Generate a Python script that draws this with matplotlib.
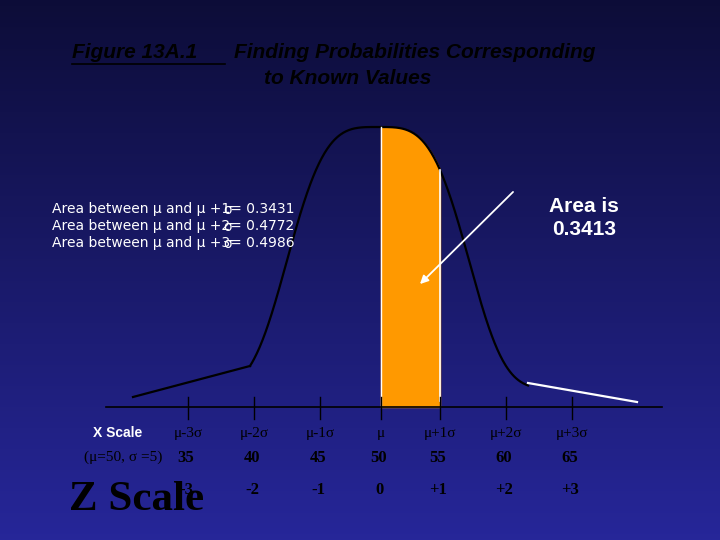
import numpy as np
import matplotlib
matplotlib.use("Agg")
import matplotlib.pyplot as plt

# slide in pixel coordinates (720 x 540, y downwards)
TICK_X = [188, 254, 320, 381, 440, 506, 572]
SIGMA_LABELS = ["μ-3σ", "μ-2σ", "μ-1σ", "μ", "μ+1σ", "μ+2σ", "μ+3σ"]
X_VALUES = ["35", "40", "45", "50", "55", "60", "65"]
Z_VALUES = ["-3", "-2", "-1", "0", "+1", "+2", "+3"]
AREA_VALUES = ["0.3431", "0.4772", "0.4986"]

BASE_Y = 407
PEAK_H = 280
CENTER = 378
WIDTH = 100
POWER = 3.6

fig = plt.figure(figsize=(7.2, 5.4), dpi=100)
ax = fig.add_axes([0, 0, 1, 1])
ax.set_xlim(0, 720)
ax.set_ylim(540, 0)
ax.axis("off")

# background gradient: dark navy at top, brighter blue at bottom
grad = np.linspace(0, 1, 256)[:, None]
top = np.array([0.05, 0.05, 0.22])
bot = np.array([0.15, 0.15, 0.60])
img = top + (bot - top) * grad[..., None]
ax.imshow(np.repeat(img, 2, axis=1), extent=[0, 720, 540, 0], aspect="auto", zorder=0)


def curve(x):
    return BASE_Y - 18 - (PEAK_H - 18) * np.exp(-np.abs((x - CENTER) / WIDTH) ** POWER)


# bell curve as drawn on the slide
xs = np.linspace(250, 528, 400)
ax.plot(xs, curve(xs), color="black", lw=1.6, zorder=3)
ax.plot([133, 250], [397, curve(250)], color="black", lw=1.6, zorder=3)
ax.plot([528, 637], [383, 402], color="white", lw=1.6, zorder=3)

# shaded area mu .. mu+1 sigma
fx = np.linspace(TICK_X[3], TICK_X[4], 100)
fy = curve(fx)
ax.fill_between(fx, fy, BASE_Y, color="#ff9900", zorder=2)
ax.plot([TICK_X[4], TICK_X[4]], [fy[-1], BASE_Y - 6], color="white", lw=1.2, zorder=3)
ax.plot([TICK_X[3], TICK_X[3]], [fy[0], BASE_Y], color="white", lw=1.0, zorder=3)

# axis and ticks
ax.plot([106, 662], [BASE_Y, BASE_Y], color="black", lw=1.2, zorder=4)
for x in TICK_X:
    ax.plot([x, x], [BASE_Y - 10, BASE_Y + 12], color="black", lw=1.0, zorder=4)

serif = dict(family="Liberation Serif", color="black", ha="center", va="center")
for x, s, v, z in zip(TICK_X, SIGMA_LABELS, X_VALUES, Z_VALUES):
    ax.text(x, 434, s, fontsize=11, **serif)
    ax.text(x - 2, 458, v, fontsize=12, fontweight="bold", **serif)
    ax.text(x - 2, 490, z, fontsize=12, fontweight="bold", **serif)
ax.text(118, 433, "X Scale", fontsize=10, color="white", ha="center", va="center",
        fontweight="bold", family="Liberation Sans")
ax.text(123, 457, "(μ=50, σ =5)", fontsize=11, **serif)
ax.text(137, 500, "Z Scale", fontsize=31, fontweight="bold", **serif)

# title
title = dict(fontsize=15, fontweight="bold", style="italic", color="black", va="center",
             family="Liberation Sans")
ax.text(72, 53, "Figure 13A.1", **title)
ax.plot([72, 225], [64, 64], color="black", lw=1.2)
ax.text(234, 53, "Finding Probabilities Corresponding", **title)
ax.text(264, 79, "to Known Values", **title)

# area labels
for i, (y, val) in enumerate(zip([209, 226, 243], AREA_VALUES)):
    ax.text(52, y, f"Area between μ and μ +{i + 1}= {val}", fontsize=10, color="white",
            va="center", family="DejaVu Sans")
    ax.text(223, y + 1, "σ", fontsize=10, color="white", va="center")

ax.text(584, 218, "Area is\n0.3413", fontsize=15, fontweight="bold", color="white",
        ha="center", va="center", linespacing=1.3, family="Liberation Sans")
ax.annotate("", xy=(418, 286), xytext=(515, 190),
            arrowprops=dict(arrowstyle="-|>", color="white", lw=1.3, mutation_scale=12), zorder=5)

fig.savefig("out.png", dpi=100)
